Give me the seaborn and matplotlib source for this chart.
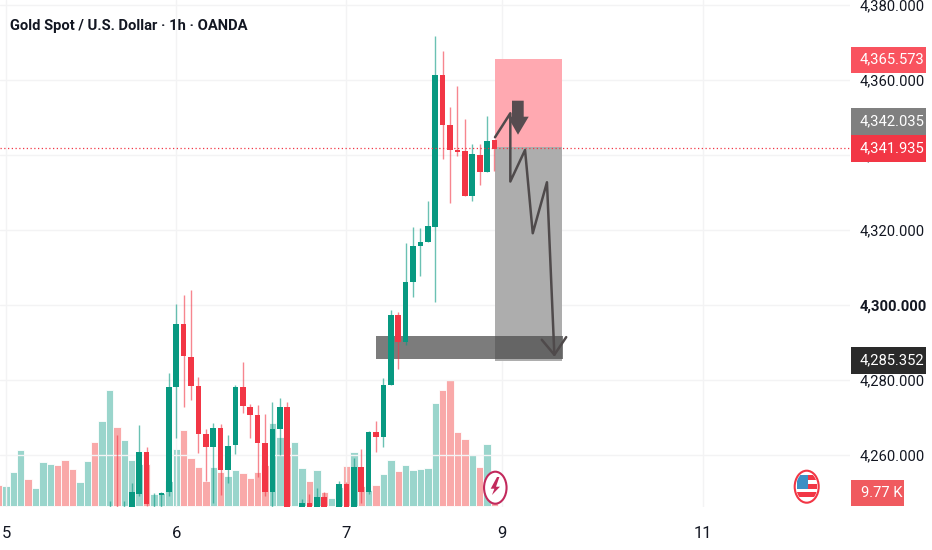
import numpy as np
import pandas as pd
import seaborn as sns
import matplotlib
matplotlib.use("Agg")
import matplotlib.pyplot as plt
from matplotlib.patches import Rectangle, Ellipse, Polygon
from matplotlib.transforms import Affine2D

# hourly bars, x is the bar number (bar 0 sits on the "5" label)
vol_idx = list(range(-1, 67))
volume = [15.75, 15.25, 25.25, 41.75, 20, 13.25, 33, 31.75, 30.5, 34.25, 28, 18.25, 33.75, 47.75,
          64, 86.75, 59.25, 49.25, 34.5, 31.25, 31.25, 9, 9.5, 18.75, 43, 57.25, 36.25, 29.25,
          18.75, 29.25, 25.75, 22.75, 26.75, 25, 21.25, 25.5, 30.75, 62, 51.75, 44.5, 48, 28.75,
          19, 27, 10.75, 5.75, 14.5, 30, 40.25, 15, 12, 15.75, 23.75, 34.25, 26.25, 30.5,
          26.75, 28, 28.75, 77.5, 87.25, 94.5, 55.5, 50.5, 38.25, 29.25, 46.5, 9.77]
vol_dir = list(
    "d" "uuu" "d" "uuu" "ddd" "uu" "d" "uu" "d" "uuu" "d" "uuuu" "dddd" "u" "d" "uu" "dddd"
    "uu" "d" "uu" "d" "u" "d" "uu" "d" "u" "d" "u" "d" "uu" "d" "uuuuu" "dddd" "u" "d" "u" "d"
)

candle_idx = list(range(14, 67))
opens = [4244, 4245, 4244, 4245, 4249.6, 4260.8, 4247.1, 4249.2, 4250.0, 4278.0, 4294.8, 4286.1,
         4278.5, 4265.6, 4262.0, 4267.1, 4256.0, 4262.7, 4278.2, 4272.9, 4270.7, 4263.1, 4250.0,
         4266.8, 4272.9, 4243, 4245, 4247.1, 4245, 4248.7, 4243, 4245, 4252.3, 4246.2, 4256.8,
         4250.1, 4266.0, 4264.8, 4278.6, 4297.2, 4290.0, 4306.0, 4315.7, 4316.7, 4320.9, 4361.2,
         4348.0, 4341.4, 4341.1, 4329.1, 4340.1, 4335.5, 4344.0]
highs = [4247.6, 4265.2, 4247.6, 4252.4, 4268.0, 4262.0, 4249.8, 4250.2, 4281.8, 4300.2, 4302.6, 4304.0,
         4280.7, 4267.0, 4268.4, 4268.3, 4265.2, 4278.7, 4284.7, 4273.5, 4273.2, 4270.9, 4274.0,
         4275.3, 4274.2, 4245, 4248.2, 4249.6, 4251.1, 4250.2, 4245, 4253.0, 4252.9, 4259.2, 4261.6,
         4266.4, 4269.1, 4280.4, 4298.7, 4298.1, 4316.4, 4320.7, 4320.4, 4327.6, 4371.7, 4367.7,
         4352.7, 4358.4, 4349.6, 4342.9, 4342.9, 4350.3, 4344.0]
lows = [4243, 4242, 4243, 4244, 4249.1, 4246.5, 4245, 4245, 4249.1, 4264.6, 4272.9, 4274.7,
        4260.4, 4253.1, 4247.1, 4249.3, 4252.4, 4260.3, 4271.1, 4264.4, 4254.2, 4249.1, 4245,
        4260.0, 4243, 4242, 4244, 4244, 4244, 4244, 4242, 4244, 4244, 4244, 4247.1,
        4249.6, 4260.7, 4262.0, 4278.6, 4282.8, 4289.3, 4302.2, 4307.8, 4316.7, 4300.9, 4338.8,
        4327.3, 4339.7, 4329.1, 4327.7, 4332.1, 4335.5, 4335.8]
closes = [4245, 4243, 4245, 4250.0, 4260.8, 4246.8, 4247.3, 4249.8, 4278.0, 4294.8, 4286.5, 4278.5,
          4265.6, 4262.0, 4267.1, 4256.0, 4262.5, 4278.0, 4273.1, 4270.7, 4263.1, 4250.0, 4266.9,
          4272.9, 4244, 4244, 4247.1, 4245, 4248.8, 4245, 4244, 4252.3, 4245, 4256.8, 4250.1,
          4266.0, 4264.8, 4278.6, 4297.2, 4290.0, 4306.0, 4315.8, 4316.8, 4321.1, 4361.2, 4348.0,
          4341.4, 4340.9, 4329.1, 4340.1, 4335.5, 4343.8, 4341.7]

y_ticks = [4380, 4360, 4340, 4320, 4300, 4280, 4260]
x_ticks = [0, 23, 46, 67, 94.2]
x_labels = ["5", "6", "7", "9", "11"]

# the hand drawn trade idea on top of the chart
path_x = [66.08, 68.15, 68.15, 70.14, 71.18, 73.1, 74.1]
path_y = [4344.7, 4351.1, 4332.9, 4341.3, 4319.1, 4332.7, 4286.7]
head_x = [72.4, 74.1, 75.7]
head_y = [4290.7, 4286.7, 4291.4]

GREEN = "#089981"
RED = "#f23645"
LABEL = 10.6

sns.set_style("white")
plt.rcParams["font.family"] = ["Roboto", "DejaVu Sans"]

W, H = 932, 550
fig = plt.figure(figsize=(W / 100, H / 100), dpi=100)
rect = [0, (H - 507) / H, 850 / W, 507 / H]
# image pixels, y going down, for the things that live outside the scales
px = Affine2D().scale(1, -1).translate(0, H)

ax_vol = fig.add_axes(rect, zorder=0)
ax = fig.add_axes(rect, zorder=1)
ax.patch.set_visible(False)

vol_df = pd.DataFrame({"bar": vol_idx, "vol": volume, "dir": vol_dir})
sns.barplot(data=vol_df, x="bar", y="vol", hue="dir", palette={"u": "#9ad5cc", "d": "#f9a9a9"},
            dodge=False, native_scale=True, width=1.0, saturation=1, legend=False,
            edgecolor="white", lw=0.6, ax=ax_vol)
ax_vol.set_xlim(-0.81, 114.05)
ax_vol.set_ylim(-0.75, 380)
ax_vol.axis("off")

candles = pd.DataFrame({"bar": candle_idx, "o": opens, "h": highs, "l": lows, "c": closes})
candles["col"] = np.where(candles["c"] >= candles["o"], GREEN, RED)

# the two zones go below the candles
span = 114.05 + 0.81
ax.axhspan(4342.0, 4365.5, xmin=(66.08 + 0.81) / span, xmax=(75.2 + 0.81) / span,
           color="#ffa9b1", lw=0, zorder=1)
ax.axhspan(4285.05, 4342.0, xmin=(66.08 + 0.81) / span, xmax=(75.2 + 0.81) / span,
           color="#adadad", lw=0, zorder=1)
ax.axhspan(4285.6, 4291.8, xmin=(50.0 + 0.81) / span, xmax=(75.3 + 0.81) / span,
           color="#4a4a4a", alpha=0.72, lw=0, zorder=1.1)

ax.vlines(candles["bar"], candles["l"], candles["h"], colors=candles["col"], lw=1.0, alpha=0.6, zorder=3)
ax.bar(candles["bar"], candles["c"] - candles["o"], bottom=candles["o"], width=0.78,
       color=candles["col"], lw=0, zorder=3.1)

ax.axhline(4341.935, color=RED, lw=0.9, ls=(0, (1, 2)), zorder=3.2)

sns.lineplot(x=path_x, y=path_y, sort=False, estimator=None, color="#4f4a4b", lw=1.8, ax=ax, zorder=4)
sns.lineplot(x=head_x, y=head_y, sort=False, estimator=None, color="#4f4a4b", lw=1.8, ax=ax, zorder=4)

ax.set_xlim(-0.81, 114.05)
ax.set_ylim(4246.1, 4381.3)
ax.set_xticks(x_ticks, x_labels)
ax.set_yticks(y_ticks, [f"{v:,.3f}" for v in y_ticks])
ax.yaxis.tick_right()
ax.tick_params(axis="y", length=0, pad=7, labelsize=LABEL, labelcolor="#131722")
ax.tick_params(axis="x", length=0, pad=14, labelsize=12, labelcolor="#131722")
for lab in ax.get_yticklabels():
    if lab.get_text().startswith("4,300"):
        lab.set_fontweight("bold")
ax.grid(True, color="#f3f3f4", lw=1)
ax.set_axisbelow(True)
sns.despine(ax=ax, left=True, bottom=True, right=True, top=True)
ax.set_xlabel("")
ax.set_ylabel("")

# price tags on the scale
tags = [("4,365.573", 46.5, 73, "#f9535f"), ("4,342.035", 108, 135, "#808080"),
        ("4,341.935", 135, 162, RED), ("4,285.352", 347, 374, "#2a2a2a")]
for text, y0, y1, col in tags:
    fig.add_artist(Rectangle((851, y0), 75, y1 - y0, transform=px, facecolor=col, lw=0, zorder=10))
    fig.text(860, (y0 + y1) / 2, text, transform=px, color="white", fontsize=LABEL, va="center", zorder=11)
fig.add_artist(Rectangle((851, 480), 53, 26, transform=px, facecolor="#f05a5f", lw=0, zorder=10))
fig.text(861, 493, "9.77 K", transform=px, color="white", fontsize=LABEL, va="center", zorder=11)

fig.text(10, 26, "Gold Spot / U.S. Dollar · 1h · OANDA", transform=px, color="#131722",
         fontsize=10.6, fontweight="bold", va="center", zorder=11)

# sell arrow
fig.add_artist(Polygon([(512, 100.7), (523.7, 100.7), (523.7, 116.7), (528.7, 116.7), (518, 134.7),
                        (507.7, 116.7), (512, 116.7)], transform=px, facecolor="#564c50", lw=0, zorder=9))

# lightning badge
fig.add_artist(Ellipse((495.3, 487.7), 22.5, 32, transform=px, facecolor="white", edgecolor="#c2295c",
                       lw=1.5, zorder=9))
fig.add_artist(Polygon([(497, 477), (490.7, 488.7), (494.4, 488.7), (492, 495), (500, 486.7), (496, 486.7),
                        (499.4, 477)], transform=px, facecolor="#c2295c", lw=0, zorder=9.5))

# flag badge
ring = Ellipse((806.7, 486.7), 24, 32, transform=px, facecolor="white", edgecolor=RED, lw=1.5, zorder=9)
fig.add_artist(ring)
clip = Ellipse((806.7, 486.7), 21, 29, transform=px)
for x0, y0, w, h, col in [(800, 475, 17, 4.5, RED), (800, 484, 17, 5, RED), (796, 491.7, 22, 5, RED),
                          (797, 475, 11, 14, "#3d8fc4")]:
    r = Rectangle((x0, y0), w, h, transform=px, facecolor=col, lw=0, zorder=9.5)
    fig.add_artist(r)
    r.set_clip_path(clip)

fig.savefig("out.png", dpi=100)
